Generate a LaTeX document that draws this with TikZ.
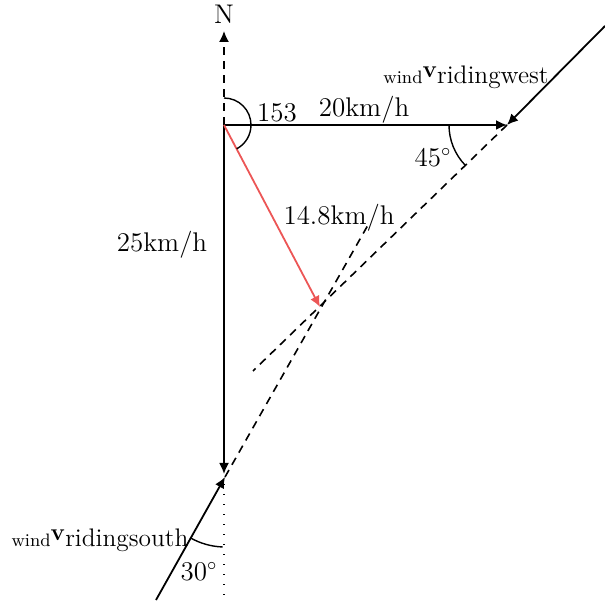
\documentclass[tikz,border=0pt]{standalone}
\usetikzlibrary{arrows.meta,calc}
\begin{document}
\begin{tikzpicture}[x=0.5pt,y=0.5pt,
  tip/.style={-{Latex[length=5.5pt,width=5pt]}},
  vec/.style={line width=0.9pt,tip},
  dsh/.style={line width=0.8pt,dash pattern=on 4pt off 3pt},
  dots/.style={line width=0.7pt,dash pattern=on 0.6pt off 4.4pt},
  lbl/.style={font=\fontsize{13.5}{15}\selectfont, inner sep=0pt},
  wlbl/.style={font=\fontsize{12.7}{14}\selectfont, inner sep=0pt},
  ang/.style={line width=0.7pt},
  redv/.style={vec,draw={rgb,255:red,236;green,86;blue,86}}]
\useasboundingbox (0,0) rectangle (605,600);
\coordinate (O) at (224,475);
\coordinate (Ntip) at (224,569);
\coordinate (E) at (507,475);
\coordinate (W) at (605,574);
\coordinate (S) at (224,126);
\coordinate (Stip) at (225,123);
\coordinate (Sst) at (156,0);
\coordinate (P) at (320,293);
\coordinate (D1) at (253,229);
\coordinate (D2) at (368,375);
\coordinate (Btop) at (224,116);
\coordinate (B) at (224,0);
% north
\draw[dsh,tip] (O) -- (Ntip);
\node[lbl] (N) at (224,586) {N};
% vectors
\draw[vec] (O) -- (E);
\draw[vec] (W) -- (E);
\draw[dsh] (E) -- (D1);
\draw[vec] (O) -- (S);
\draw[vec] (Sst) -- (Stip);
\draw[dsh] (Stip) -- (D2);
\draw[redv] (O) -- (P);
\draw[dots] (Btop) -- (B);
% angles
\draw[ang] ($(O)+(90:27)$) arc[start angle=90,end angle=-62,radius=27];
\draw[ang] ($(E)+(180:58)$) arc[start angle=180,end angle=224,radius=58];
\draw[ang] ($(Stip)+(240:70)$) arc[start angle=240,end angle=268,radius=70];
% labels
\node[lbl] (l153) at (277,487) {153};
\node[lbl] (l20) at (364,490) {20km/h};
\node[lbl] (l45) at (433,442) {45$^\circ$};
\node[lbl] (l25) at (162,355) {25km/h};
\node[lbl] (l148) at (339,382) {14.8km/h};
\node[wlbl] (lw) at (466,523) {{\fontsize{9}{10}\selectfont wind}\raisebox{3pt}{$\mathbf{v}$}ridingwest};
\node[wlbl] (ls) at (100,60) {{\fontsize{9}{10}\selectfont wind}\raisebox{3pt}{$\mathbf{v}$}ridingsouth};
\node[lbl] (l30) at (199,28) {30$^\circ$};
\end{tikzpicture}
\end{document}
